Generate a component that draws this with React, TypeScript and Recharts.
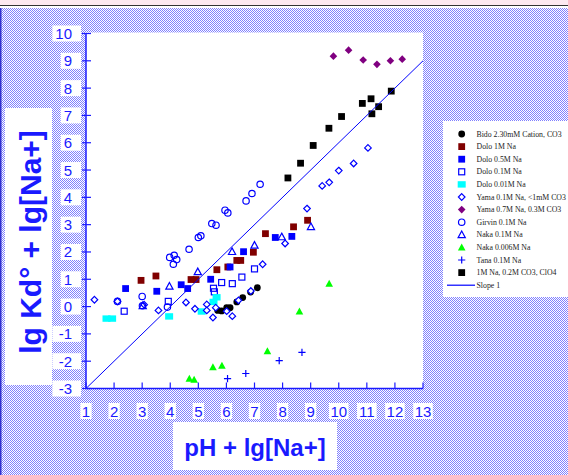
import React from "react";
import { Legend, Scatter, ScatterChart, XAxis, YAxis } from "recharts";

type Pt = [number, number];

const xTicks = [1, 2, 3, 4, 5, 6, 7, 8, 9, 10, 11, 12, 13];
const yTicks = [-3, -2, -1, 0, 1, 2, 3, 4, 5, 6, 7, 8, 9, 10];

const bido: Pt[] = [[5.69, -0.14], [5.83, -0.16], [6.01, -0.04], [6.13, -0.04], [6.37, 0.17], [6.58, 0.33], [6.86, 0.53], [7.1, 0.69]];
const dolo1M: Pt[] = [[2.96, 0.96], [3.49, 1.12], [4.74, 0.99], [4.92, 0.99], [5.66, 1.35], [6.05, 1.45], [6.37, 1.69], [6.51, 1.69], [6.96, 1.99], [7.39, 2.67], [8.39, 2.92], [8.89, 3.16]];
const dolo05M: Pt[] = [[2.41, 0.66], [3.52, 0.56], [4.39, 0.8], [4.62, 0.66], [5.44, 1.0], [6.13, 1.45], [6.61, 2.01], [7.74, 2.53], [8.33, 2.57]];
const dolo01M: Pt[] = [[2.36, -0.17], [3.93, 0.19], [5.54, 0.67], [5.57, 0.54], [5.83, 0.88], [6.21, 0.84], [6.55, 1.08], [7.0, 1.38]];
const dolo001M: Pt[] = [[1.73, -0.44], [1.93, -0.44], [3.96, -0.36], [5.12, -0.18], [5.54, 0.17], [5.65, 0.34]];
const yama01: Pt[] = [[1.3, 0.25], [2.12, 0.19], [3.07, 0.07], [3.58, -0.14], [4.56, 0.15], [4.88, -0.08], [5.3, 0.08], [5.3, -0.14], [5.52, -0.4], [5.62, -0.04], [6.01, -0.17], [6.21, -0.35], [6.43, 0.23], [6.87, 0.57], [7.29, 1.55], [8.09, 2.31], [8.87, 3.59], [9.41, 4.42], [9.66, 4.55], [10.0, 4.98], [10.53, 5.24], [11.04, 5.81]];
const yama07: Pt[] = [[9.81, 9.17], [10.35, 9.39], [10.87, 9.03], [11.36, 8.87], [11.84, 9.0], [12.26, 9.06]];
const girvin: Pt[] = [[2.12, 0.19], [3.0, 0.37], [3.01, 0.03], [3.9, -0.02], [3.98, 1.8], [4.14, 1.88], [4.23, 1.72], [4.11, 1.55], [4.67, 2.1], [5.0, 2.53], [5.09, 2.59], [5.48, 3.04], [5.63, 2.98], [5.95, 3.53], [6.05, 3.43], [6.7, 3.87], [6.91, 4.14], [7.2, 4.48]];
const naka01: Pt[] = [[3.02, 0.03], [3.97, 0.74], [4.98, 1.27], [6.2, 2.01], [7.0, 2.24], [7.97, 2.55], [9.01, 2.92]];
const naka0006: Pt[] = [[4.68, -2.64], [4.85, -2.68], [5.52, -2.22], [5.84, -2.17], [7.46, -1.64], [8.6, -0.18], [9.66, 0.84]];
const tana: Pt[] = [[6.04, -2.64], [6.69, -2.45], [7.88, -1.98], [8.69, -1.68]];
const na1M: Pt[] = [[8.19, 4.71], [8.64, 5.25], [9.09, 5.9], [9.65, 6.53], [10.1, 6.96], [10.84, 7.44], [11.15, 7.61], [11.42, 7.32], [11.18, 7.06], [11.87, 7.89]];
const slope1: Pt[] = [[1, -3], [13, 9]];

type Kind = "dot" | "square" | "wide" | "openSquare" | "openDiamond" | "diamond" | "openCircle" | "openTriangle" | "triangle" | "plus";

const series: { name: string; data: Pt[]; kind: Kind; color: string }[] = [
  { name: "Bido 2.30mM Cation, CO3", data: bido, kind: "dot", color: "#000000" },
  { name: "Dolo 1M Na", data: dolo1M, kind: "square", color: "#800000" },
  { name: "Dolo 0.5M Na", data: dolo05M, kind: "square", color: "#0000ff" },
  { name: "Dolo 0.1M Na", data: dolo01M, kind: "openSquare", color: "#0000ff" },
  { name: "Dolo 0.01M Na", data: dolo001M, kind: "wide", color: "#00ffff" },
  { name: "Yama 0.1M Na, <1mM CO3", data: yama01, kind: "openDiamond", color: "#0000ff" },
  { name: "Yama 0.7M Na, 0.3M CO3", data: yama07, kind: "diamond", color: "#800080" },
  { name: "Girvin 0.1M Na", data: girvin, kind: "openCircle", color: "#0000ff" },
  { name: "Naka 0.1M Na", data: naka01, kind: "openTriangle", color: "#0000ff" },
  { name: "Naka 0.006M Na", data: naka0006, kind: "triangle", color: "#00ff00" },
  { name: "Tana 0.1M Na", data: tana, kind: "plus", color: "#0000ff" },
  { name: "1M Na, 0.2M CO3, ClO4", data: na1M, kind: "square", color: "#000000" },
];

const rows = (pts: Pt[]) => pts.map(([x, y]) => ({ x, y }));

const BLUE = "#1a1aff";
const PLOT_LEFT = 86;
const PLOT_TOP = 33.5;
const PLOT_RIGHT = 423;
const PLOT_BOTTOM = 388.5;

function Marker({ kind, color, cx, cy }: { kind: Kind; color: string; cx: number; cy: number }) {
  switch (kind) {
    case "dot":
      return <circle cx={cx} cy={cy} r={3.4} fill={color} />;
    case "square":
      return <rect x={cx - 3.4} y={cy - 3.4} width={6.8} height={6.8} fill={color} />;
    case "wide":
      return <rect x={cx - 4} y={cy - 3.2} width={8} height={6.4} fill={color} />;
    case "openSquare":
      return <rect x={cx - 3} y={cy - 3} width={6} height={6} fill="none" stroke={color} strokeWidth={1.2} />;
    case "openDiamond":
      return <polygon points={`${cx},${cy - 3.3} ${cx + 3.3},${cy} ${cx},${cy + 3.3} ${cx - 3.3},${cy}`} fill="#fff" stroke={color} strokeWidth={1.2} />;
    case "diamond":
      return <polygon points={`${cx},${cy - 3.8} ${cx + 3.8},${cy} ${cx},${cy + 3.8} ${cx - 3.8},${cy}`} fill={color} />;
    case "openCircle":
      return <circle cx={cx} cy={cy} r={3.2} fill="none" stroke={color} strokeWidth={1.2} />;
    case "openTriangle":
      return <polygon points={`${cx},${cy - 3.8} ${cx + 3.6},${cy + 2.8} ${cx - 3.6},${cy + 2.8}`} fill="none" stroke={color} strokeWidth={1.2} />;
    case "triangle":
      return <polygon points={`${cx},${cy - 4} ${cx + 3.8},${cy + 3} ${cx - 3.8},${cy + 3}`} fill={color} />;
    case "plus":
      return <path d={`M${cx - 3.6},${cy}H${cx + 3.6}M${cx},${cy - 3.6}V${cy + 3.6}`} stroke={color} strokeWidth={1.2} fill="none" />;
  }
  return null;
}

const tickFont = { fontFamily: "Liberation Sans, Arial, sans-serif", fontSize: 15, fill: BLUE };

function XTick(props: any) {
  const { x, payload } = props;
  const label = String(payload.value);
  const w = label.length * 8.3 + 3;
  return (
    <g>
      <line x1={x} x2={x} y1={PLOT_BOTTOM} y2={PLOT_BOTTOM - 6} stroke={BLUE} strokeWidth={1.2} />
      <rect x={x - w / 2} y={403} width={w} height={16} fill="#fff" />
      <text x={x} y={411.5} textAnchor="middle" dominantBaseline="central" {...tickFont}>{label}</text>
    </g>
  );
}

function YTick(props: any) {
  const { y, payload } = props;
  const label = String(payload.value);
  const w = label.length * 8.3 + 3;
  return (
    <g>
      <line x1={PLOT_LEFT - 4} x2={PLOT_LEFT + 5} y1={y} y2={y} stroke={BLUE} strokeWidth={1.2} />
      <rect x={72 - w} y={y - 8} width={w + 9} height={16} fill="#fff" />
      <text x={72} y={y} textAnchor="end" dominantBaseline="central" {...tickFont}>{label}</text>
    </g>
  );
}

function YTitle() {
  return (
    <g>
      <rect x={5} y={108} width={47} height={277} fill="#fff" />
      <text x={30} y={242} transform="rotate(-90 30 242)" textAnchor="middle" dominantBaseline="central"
        fontFamily="Liberation Sans, Arial, sans-serif" fontWeight="bold" fontSize={30} fill={BLUE}>
        lg Kd° + lg[Na+]
      </text>
    </g>
  );
}

function XTitle() {
  return (
    <g>
      <rect x={173} y={422} width={164} height={48} fill="#fff" />
      <text x={255} y={447} textAnchor="middle" dominantBaseline="central"
        fontFamily="Liberation Sans, Arial, sans-serif" fontWeight="bold" fontSize={24} fill={BLUE}>
        pH + lg[Na+]
      </text>
    </g>
  );
}

const legendFont = { fontFamily: "Liberation Serif, Times New Roman, serif", fontSize: 7.8, fill: "#222" };

function LegendBox() {
  return (
    <svg width={125} height={176} style={{ display: "block" }}>
      <rect x={0} y={0} width={125} height={176} fill="#fff" />
      {series.map((s, i) => {
        const cy = 13 + i * 12.6;
        return (
          <g key={s.name}>
            <Marker kind={s.kind} color={s.color} cx={18.7} cy={cy} />
            <text x={33.5} y={cy} dominantBaseline="central" {...legendFont}>{s.name}</text>
          </g>
        );
      })}
      <line x1={4} x2={32} y1={13 + 12 * 12.6} y2={13 + 12 * 12.6} stroke="#0000ff" strokeWidth={1.2} />
      <text x={33.5} y={13 + 12 * 12.6} dominantBaseline="central" {...legendFont}>Slope 1</text>
    </svg>
  );
}

export default function App() {
  return (
    <div style={{ position: "absolute", left: 0, top: 0, width: 568, height: 475, overflow: "hidden", background: "#fff" }}>
      <svg width={568} height={475} style={{ position: "absolute", left: 0, top: 0 }}>
        <defs>
          <pattern id="hatch" width={2} height={2} patternUnits="userSpaceOnUse">
            <rect width={2} height={2} fill="#fff" />
            <rect x={0} y={0} width={1} height={1} fill="#8080ff" />
            <rect x={1} y={1} width={1} height={1} fill="#8080ff" />
          </pattern>
        </defs>
        <rect x={0} y={0} width={568} height={5} fill="#fde9f0" />
        <rect x={0} y={5} width={568} height={1} fill="#333" />
        <rect x={0} y={8} width={568} height={467} fill="url(#hatch)" />
        <rect x={0} y={8} width={1.5} height={467} fill="#3030d0" />
        <rect x={PLOT_LEFT} y={PLOT_TOP - 1} width={PLOT_RIGHT - PLOT_LEFT} height={PLOT_BOTTOM - PLOT_TOP + 1} fill="#fff" />
      </svg>
      <div style={{ position: "absolute", left: 0, top: 0 }}>
        <ScatterChart width={568} height={475} margin={{ top: PLOT_TOP, right: 568 - PLOT_RIGHT, left: PLOT_LEFT - 60, bottom: 475 - PLOT_BOTTOM - 30 }}>
          <XAxis type="number" dataKey="x" domain={[1, 13]} ticks={xTicks} interval={0} allowDataOverflow
            height={30} tickLine={false} axisLine={{ stroke: BLUE, strokeWidth: 1.5 }} tick={<XTick />} label={<XTitle />} />
          <YAxis type="number" dataKey="y" domain={[-3, 10]} ticks={yTicks} interval={0} allowDataOverflow
            width={60} tickLine={false} axisLine={{ stroke: BLUE, strokeWidth: 1.5 }} tick={<YTick />} label={<YTitle />} />
          {series.map((s) => (
            <Scatter key={s.name} name={s.name} data={rows(s.data)} isAnimationActive={false}
              shape={(p: any) => <Marker kind={s.kind} color={s.color} cx={p.cx} cy={p.cy} />} />
          ))}
          <Scatter name="Slope 1" data={rows(slope1)} isAnimationActive={false} line={{ stroke: "#0000ff", strokeWidth: 1 }}
            lineType="joint" shape={() => <g />} />
          <Legend layout="horizontal" verticalAlign="middle" align="center" content={() => <LegendBox />}
            wrapperStyle={{ position: "absolute", left: 443, top: 121, width: 125, height: 176, margin: 0, padding: 0 }} />
        </ScatterChart>
      </div>
    </div>
  );
}
